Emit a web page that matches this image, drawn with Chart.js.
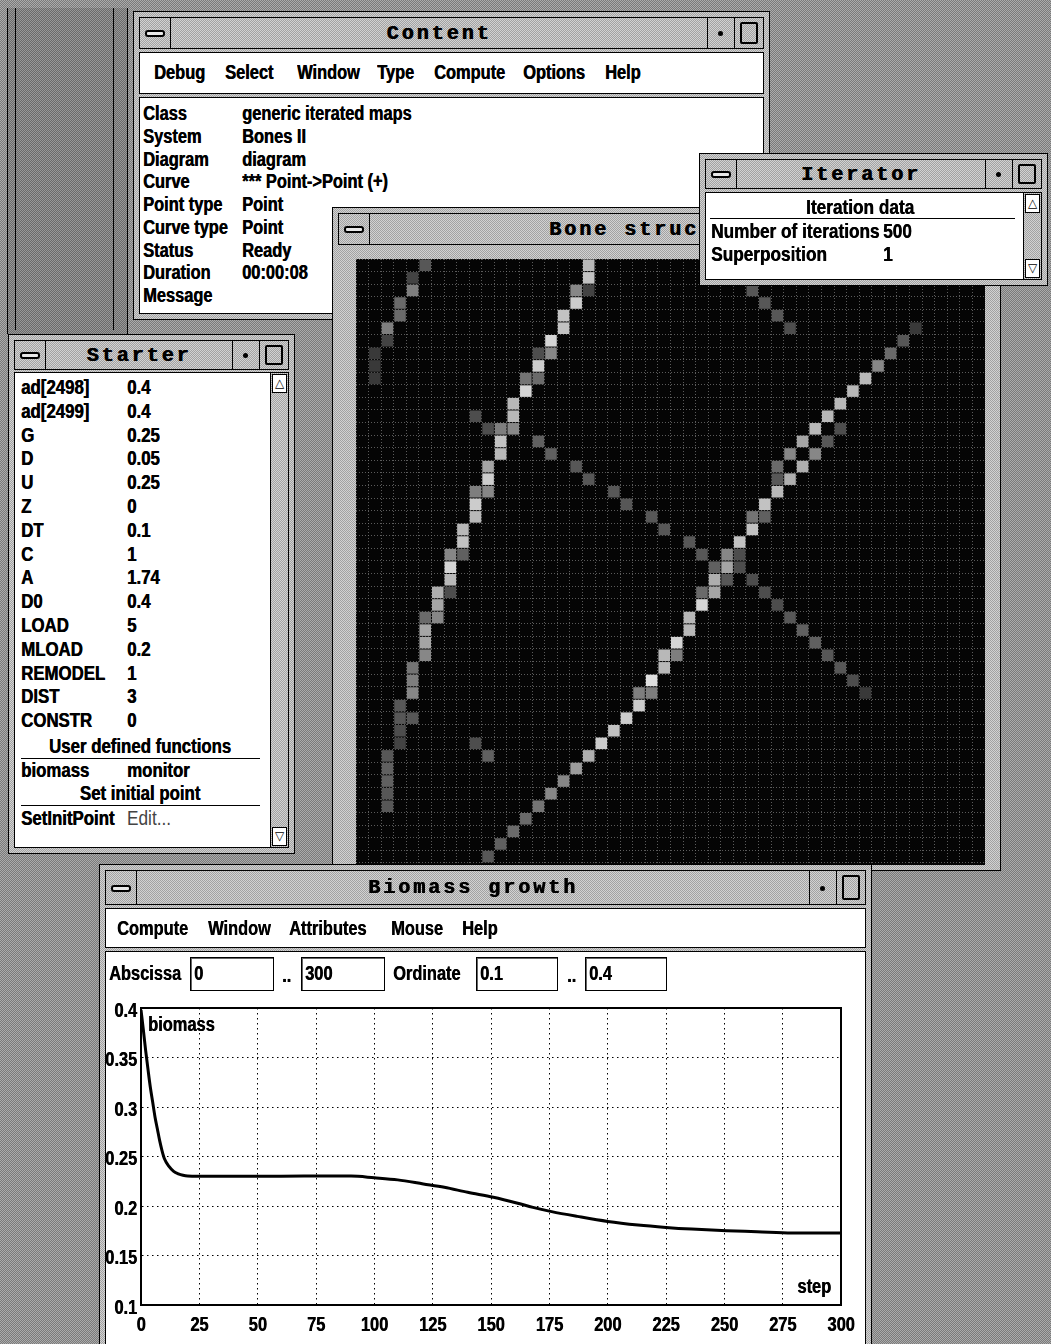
<!DOCTYPE html>
<html>
<head>
<meta charset="utf-8">
<script src="https://cdn.jsdelivr.net/npm/chart.js@4.4.1/dist/chart.umd.min.js"></script>
<style>
html, body { margin: 0; padding: 0; }
body {
  width: 1051px; height: 1344px; overflow: hidden; position: relative;
  background-color: #929292;
  background-image: repeating-conic-gradient(#7a7a7a 0% 25%, #ababab 0% 50%);
  background-size: 2px 2px;
  font-family: "Liberation Sans", Arial, sans-serif;
}
.layer { position: absolute; left: 0; top: 0; width: 1051px; height: 1344px; }
.win, .bar, .pane, .box, .scroll, .blk, .clip { position: absolute; box-sizing: border-box; }
.win, .bar, .scroll {
  background-color: #b9b9b9;
  background-image: repeating-conic-gradient(#a2a2a2 0% 25%, #d2d2d2 0% 50%);
  background-size: 2px 2px;
}
.win { border: 1px solid #000; }
.bar { border: 1px solid #000; display: flex; }
.sys { width: 30px; border-right: 1px solid #000; position: relative; }
.sys::after { content: ""; position: absolute; left: 5px; right: 5px; top: 50%; height: 7px; margin-top: -3px;
  border: 2px solid #000; border-radius: 3px; background: #e8e8e8; box-sizing: border-box; }
.ttl { flex: 1; display: flex; align-items: center; justify-content: center;
  font-family: "Liberation Mono", "DejaVu Sans Mono", monospace; font-weight: bold; font-size: 20px;
  letter-spacing: 3px; color: #000; text-shadow: 0.7px 0 0 #000; overflow: hidden; white-space: nowrap; }
.minb { width: 26px; border-left: 1px solid #000; position: relative; }
.minb::after { content: ""; position: absolute; left: 50%; top: 50%; width: 5px; height: 5px; margin: -2px 0 0 -3px;
  background: #000; border-radius: 50%; }
.maxb { width: 28px; border-left: 1px solid #000; position: relative; }
.maxb::after { content: ""; position: absolute; left: 5px; right: 5px; top: 4px; bottom: 4px;
  border: 2px solid #000; border-radius: 2px; }
.pane { border: 1px solid #000; background: #fff; }
.box { border: 1px solid #000; background: #fff; box-shadow: inset 1px 1px 0 #666; }
.scroll { border-left: 1px solid #000; }
.arr { position: absolute; left: 1px; right: 1px; height: 19px; background: #fff; border: 1px solid #000;
  box-sizing: border-box; font: 12px "DejaVu Sans", sans-serif; text-align: center; line-height: 17px; }
.t { position: absolute; white-space: nowrap; font-weight: bold; font-size: 20px; line-height: 24px; height: 24px;
  color: #000; text-shadow: 0.5px 0 0 currentColor; transform: scaleX(0.82); transform-origin: left center; }
.t.c { transform-origin: center center; text-align: center; }
.t.n { text-shadow: none; }
.blk { background: #000; }
.clip { overflow: hidden; background: #050505; }
canvas { position: absolute; left: 0; top: 0; }
</style>
</head>
<body>
<div class="layer" id="L0"></div>
<div class="layer" id="L1"></div>
<div class="layer" id="L2"></div>
<div class="layer" id="L3"></div>
<div class="layer" id="L4"></div>
<script>
// ---- biomass growth curve (step vs biomass) ----
const steps   = [0, 1, 2, 3, 4, 5, 6, 7, 8, 9, 10, 12, 14, 16, 18, 20, 30, 50, 70, 90, 100, 110, 121, 130, 140, 151, 161, 168, 176, 187, 200, 213, 225, 236, 251, 264, 279, 300];
const biomass = [0.398, 0.378, 0.357, 0.338, 0.32, 0.305, 0.29, 0.278, 0.266, 0.256, 0.248, 0.24, 0.235, 0.2325, 0.231, 0.2303, 0.23, 0.23, 0.2302, 0.2302, 0.2285, 0.2264, 0.2223, 0.2189, 0.2138, 0.2088, 0.2031, 0.1986, 0.1943, 0.1895, 0.1844, 0.1808, 0.1784, 0.1767, 0.175, 0.174, 0.1727, 0.1727];
const xTicks = [0, 25, 50, 75, 100, 125, 150, 175, 200, 225, 250, 275, 300];
const yTicks = [0.1, 0.15, 0.2, 0.25, 0.3, 0.35, 0.4];
const yTickLabels = ['0.1', '0.15', '0.2', '0.25', '0.3', '0.35', '0.4'];

// ---- bone structure lattice (50 x 50), only the non-empty cells ----
const boneCol = [18,18,17,18,17,16,16,15,15,14,14,13,14,13,12,12,11,12,11,11,10,10,9,10,9,9,8,8,7,8,7,7,6,7,6,5,6,5,5,5,4,4,4,3,3,4,3,3,2,2,2,2,2,
  5,4,4,3,3,2,2,1,1,1,
  9,10,14,15,17,18,20,21,23,24,26,27,30,31,32,33,34,35,36,37,38,39,40,
  31,32,33,34,44,
  43,42,41,40,39,38,37,36,38,35,37,34,36,33,35,33,34,33,32,31,32,31,30,29,30,29,28,28,29,28,27,27,26,26,25,25,24,24,23,22,23,22,21,20,19,18,17,16,15,14,13,12,11,10,
  9,10];
const boneRow = [0,1,2,2,3,4,5,6,7,7,8,9,9,10,11,12,13,13,14,15,16,17,18,18,19,20,21,22,23,23,24,25,26,26,27,28,28,29,30,31,32,33,34,35,36,36,37,38,39,40,41,42,43,
  0,1,2,3,4,5,6,7,8,9,
  12,13,14,15,16,17,18,19,20,21,22,23,24,25,26,27,28,29,30,31,32,33,34,
  2,3,4,5,5,
  6,7,8,9,10,11,12,13,13,14,14,15,15,16,16,17,17,18,19,20,20,21,22,23,23,24,24,25,25,26,26,27,28,29,30,31,31,32,33,34,34,35,36,37,38,39,40,41,42,43,44,45,46,47,
  38,39];
const boneVal = [0.8,0.85,0.55,0.2,0.9,0.85,0.85,0.95,0.55,0.25,0.9,0.45,0.4,0.95,0.8,0.8,0.5,0.55,0.85,0.8,0.7,0.9,0.5,0.55,0.9,0.8,0.8,0.85,0.55,0.35,0.95,0.8,0.75,0.25,0.7,0.4,0.55,0.7,0.7,0.55,0.45,0.5,0.55,0.3,0.3,0.3,0.25,0.2,0.3,0.35,0.35,0.3,0.3,
  0.3,0.2,0.5,0.4,0.4,0.5,0.2,0.15,0.15,0.15,
  0.25,0.25,0.35,0.35,0.3,0.3,0.3,0.3,0.3,0.3,0.3,0.3,0.25,0.25,0.25,0.25,0.3,0.35,0.35,0.3,0.3,0.25,0.15,
  0.3,0.3,0.3,0.25,0.15,
  0.3,0.4,0.55,0.8,0.8,0.8,0.8,0.8,0.25,0.7,0.3,0.55,0.55,0.4,0.75,0.3,0.75,0.8,0.85,0.45,0.35,0.85,0.85,0.55,0.25,0.7,0.35,0.75,0.3,0.7,0.4,0.95,0.8,0.8,0.95,0.5,0.8,0.8,1,0.5,0.5,0.9,0.9,0.85,0.9,0.75,0.65,0.55,0.55,0.45,0.4,0.4,0.35,0.3,
  0.25,0.35];

// ---- window texts ----
const contentMenu = [['Debug', 154], ['Select', 225], ['Window', 297], ['Type', 377], ['Compute', 434], ['Options', 523], ['Help', 605]];
const contentKeys = ['Class', 'System', 'Diagram', 'Curve', 'Point type', 'Curve type', 'Status', 'Duration', 'Message'];
const contentVals = ['generic iterated maps', 'Bones II', 'diagram', ' *** Point->Point (+)', 'Point', 'Point', 'Ready', '00:00:08', ''];
const starterKeys = ['ad[2498]', 'ad[2499]', 'G', 'D', 'U', 'Z', 'DT', 'C', 'A', 'D0', 'LOAD', 'MLOAD', 'REMODEL', 'DIST', 'CONSTR'];
const starterVals = ['0.4', '0.4', '0.25', '0.05', '0.25', '0', '0.1', '1', '1.74', '0.4', '5', '0.2', '1', '3', '0'];
const bioMenu = [['Compute', 117], ['Window', 208], ['Attributes', 289], ['Mouse', 391], ['Help', 462]];

const FONT = '"Liberation Sans", Arial, sans-serif';
const NARROW = 0.82;

function box(layer, cls, x1, y1, x2, y2) {
  const d = document.createElement('div');
  d.className = cls;
  d.style.left = x1 + 'px'; d.style.top = y1 + 'px';
  d.style.width = (x2 - x1) + 'px'; d.style.height = (y2 - y1) + 'px';
  document.getElementById(layer).appendChild(d);
  return d;
}
function txt(layer, s, x, yc, opt) {
  opt = opt || {};
  const d = document.createElement('div');
  d.className = 't' + (opt.center ? ' c' : '') + (opt.normal ? ' n' : '');
  d.textContent = s;
  if (opt.size) d.style.fontSize = opt.size + 'px';
  if (opt.normal) d.style.fontWeight = 'normal';
  if (opt.color) d.style.color = opt.color;
  d.style.top = (yc - 12) + 'px';
  if (opt.center) { d.style.left = (x - 300) + 'px'; d.style.width = '600px'; }
  else d.style.left = x + 'px';
  document.getElementById(layer).appendChild(d);
}
function frame(layer, x1, y1, x2, y2, tb, title) {
  box(layer, 'win', x1, y1, x2, y2);
  const b = box(layer, 'bar', x1 + 6, y1 + 6, x2 - 6, tb);
  b.innerHTML = '<div class="sys"></div><div class="ttl">' + title + '</div><div class="minb"></div><div class="maxb"></div>';
}
function scroll(layer, x1, y1, x2, y2) {
  const s = box(layer, 'scroll', x1, y1, x2, y2);
  s.innerHTML = '<div class="arr" style="top:1px">&#9651;</div><div class="arr" style="bottom:1px">&#9661;</div>';
}
function canvasIn(layer, x1, y1, w, h, ch) {
  const c = box(layer, 'clip', x1, y1, x1 + w, y1 + h);
  const cv = document.createElement('canvas');
  cv.width = w; cv.height = ch || h;
  cv.style.width = w + 'px'; cv.style.height = (ch || h) + 'px';
  c.appendChild(cv);
  return cv;
}

// desktop: darker window left of Content
box('L0', 'blk', 7, 8, 128, 334).style.cssText += 'background:#808080;background-image:repeating-conic-gradient(#6a6a6a 0% 25%,#989898 0% 50%);background-size:2px 2px;border-left:1px solid #000;border-right:1px solid #000';
box('L0', 'blk', 15, 8, 16, 330);
box('L0', 'blk', 113, 8, 114, 330);

// Content window
frame('L1', 133, 11, 770, 320, 49, 'Content');
box('L1', 'pane', 139, 52, 764, 94);
box('L1', 'pane', 139, 97, 764, 314);
contentMenu.forEach(m => txt('L1', m[0], m[1], 72));
contentKeys.forEach((k, i) => {
  txt('L1', k, 143, 113 + 22.75 * i);
  txt('L1', contentVals[i], 242, 113 + 22.75 * i);
});

// Starter window
frame('L1', 8, 334, 295, 854, 370, 'Starter');
box('L1', 'pane', 14, 372, 289, 848);
scroll('L1', 270, 373, 288, 847);
starterKeys.forEach((k, i) => {
  txt('L1', k, 21, 387 + 23.8 * i, {size: 20.5});
  txt('L1', starterVals[i], 127, 387 + 23.8 * i, {size: 20.5});
});
txt('L1', 'User defined functions', 140, 746, {size: 20.5, center: true});
box('L1', 'blk', 21, 758, 260, 759);
txt('L1', 'biomass', 21, 770, {size: 20.5});
txt('L1', 'monitor', 127, 770, {size: 20.5});
txt('L1', 'Set initial point', 140, 793, {size: 20.5, center: true});
box('L1', 'blk', 21, 805, 260, 806);
txt('L1', 'SetInitPoint', 21, 818, {size: 20.5});
txt('L1', 'Edit...', 127, 818, {size: 21, normal: true, color: '#444'});

// Bone structure window
frame('L2', 332, 207, 1001, 871, 245, 'Bone structure');
const boneCanvas = canvasIn('L2', 356, 259, 629, 606, 629);

// Iterator window
frame('L3', 699, 153, 1048, 286, 189, 'Iterator');
box('L3', 'pane', 705, 192, 1042, 280);
scroll('L3', 1023, 193, 1041, 279);
txt('L3', 'Iteration data', 860, 207, {size: 21, center: true});
box('L3', 'blk', 710, 218, 1015, 219);
txt('L3', 'Number of iterations', 711, 231, {size: 21});
txt('L3', '500', 883, 231, {size: 21});
txt('L3', 'Superposition', 711, 254, {size: 21});
txt('L3', '1', 883, 254, {size: 21});

// Biomass growth window
frame('L4', 99, 864, 872, 1380, 905, 'Biomass growth');
box('L4', 'pane', 105, 908, 866, 948);
box('L4', 'pane', 105, 951, 866, 1380);
bioMenu.forEach(m => txt('L4', m[0], m[1], 928));
txt('L4', 'Abscissa', 109, 973);
box('L4', 'box', 190, 957, 274, 991); txt('L4', '0', 194, 973);
txt('L4', '..', 282, 975);
box('L4', 'box', 301, 957, 385, 991); txt('L4', '300', 305, 973);
txt('L4', 'Ordinate', 393, 973);
box('L4', 'box', 476, 957, 558, 991); txt('L4', '0.1', 480, 973);
txt('L4', '..', 567, 975);
box('L4', 'box', 585, 957, 667, 991); txt('L4', '0.4', 589, 973);
const bioCanvas = canvasIn('L4', 106, 996, 754, 348);
bioCanvas.parentNode.style.background = '#fff';

Chart.defaults.font.family = FONT;
Chart.defaults.color = '#000';

// bone structure: one square per lattice cell
const gridLines = Array.from({length: 51}, (_, i) => i);
function cellGrey(v) {
  const g = Math.round(28 + 195 * v);
  return 'rgb(' + g + ',' + g + ',' + g + ')';
}
const latticeAxis = {
  type: 'linear', min: 0, max: 50,
  afterBuildTicks: s => { s.ticks = gridLines.map(v => ({value: v})); },
  ticks: {display: false},
  grid: {color: 'rgba(120,120,120,0.75)', lineWidth: 1, drawTicks: false},
  border: {display: false, dash: [1, 2]}
};
new Chart(boneCanvas, {
  type: 'scatter',
  data: {
    datasets: [{
      data: boneCol.map((c, i) => ({x: c + 0.5, y: boneRow[i] + 0.5, v: boneVal[i]})),
      pointStyle: 'rect',
      pointRadius: ctx => (ctx.chart.chartArea ? ctx.chart.chartArea.width / 50 - 1 : 11) / 2 / Math.SQRT1_2,
      pointBorderWidth: 0,
      pointBackgroundColor: ctx => cellGrey(ctx.raw ? ctx.raw.v : 0)
    }]
  },
  options: {
    responsive: false, animation: false, events: [],
    layout: {padding: 0, autoPadding: false},
    plugins: {legend: {display: false}, tooltip: {enabled: false}},
    scales: {x: latticeAxis, y: Object.assign({}, latticeAxis, {reverse: true})}
  },
  plugins: [{
    id: 'blackGround',
    beforeDraw(c) {
      c.ctx.save();
      c.ctx.fillStyle = '#050505';
      c.ctx.fillRect(0, 0, c.width, c.height);
      c.ctx.restore();
    }
  }]
});

// biomass growth line; tick labels drawn narrow from the scales
new Chart(bioCanvas, {
  type: 'scatter',
  data: {
    datasets: [{
      label: 'biomass',
      data: steps.map((s, i) => ({x: s, y: biomass[i]})),
      showLine: true,
      borderColor: '#000',
      borderWidth: 3,
      pointRadius: 0,
      cubicInterpolationMode: 'monotone'
    }]
  },
  options: {
    responsive: false, animation: false, events: [],
    layout: {padding: {top: 12, right: 19, left: 0, bottom: 0}, autoPadding: false},
    plugins: {legend: {display: false}, tooltip: {enabled: false}},
    scales: {
      x: {
        type: 'linear', min: 0, max: 300,
        afterBuildTicks: s => { s.ticks = xTicks.map(v => ({value: v})); },
        afterFit: s => { s.height = 39; },
        ticks: {display: false},
        grid: {color: '#000', lineWidth: 1, drawTicks: false},
        border: {color: '#000', width: 2, dash: [1.5, 3.5]}
      },
      y: {
        type: 'linear', min: 0.1, max: 0.4,
        afterBuildTicks: s => { s.ticks = yTicks.map(v => ({value: v})); },
        afterFit: s => { s.width = 35; },
        ticks: {display: false},
        grid: {color: '#000', lineWidth: 1, drawTicks: false},
        border: {color: '#000', width: 2, dash: [1.5, 3.5]}
      }
    }
  },
  plugins: [{
    id: 'boxAndNames',
    afterDraw(c) {
      const a = c.chartArea, ctx = c.ctx;
      const narrowText = (s, x, y, align) => {
        ctx.save();
        ctx.translate(x, y);
        ctx.scale(NARROW, 1);
        ctx.textAlign = align;
        ctx.fillText(s, 0, 0);
        ctx.fillText(s, 0.6, 0);
        ctx.restore();
      };
      ctx.save();
      ctx.strokeStyle = '#000';
      ctx.lineWidth = 2;
      ctx.strokeRect(a.left, a.top, a.width, a.height);
      ctx.fillStyle = '#000';
      ctx.font = 'bold 20px ' + FONT;
      ctx.textBaseline = 'middle';
      yTicks.forEach((v, i) => narrowText(yTickLabels[i], a.left - 4, c.scales.y.getPixelForValue(v) + 3, 'right'));
      xTicks.forEach(v => narrowText(String(v), c.scales.x.getPixelForValue(v), a.bottom + 20, 'center'));
      narrowText('biomass', a.left + 7, a.top + 17, 'left');
      narrowText('step', a.right - 10, a.bottom - 18, 'right');
      ctx.restore();
    }
  }]
});
</script>
</body>
</html>
